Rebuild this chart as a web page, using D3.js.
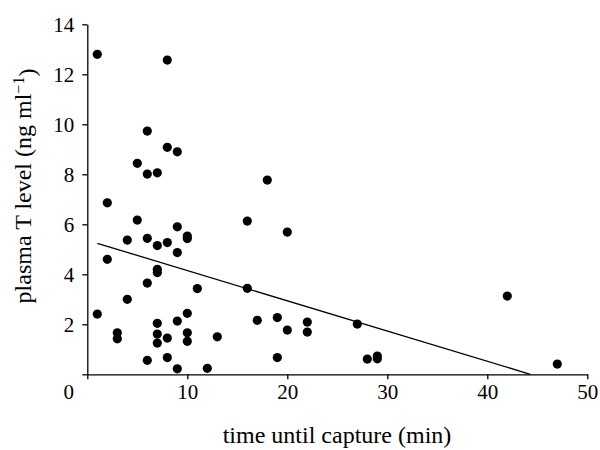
<!DOCTYPE html>
<html>
<head>
<meta charset="utf-8">
<script src="https://cdn.jsdelivr.net/npm/d3@7"></script>
<style>
  html, body { margin: 0; padding: 0; background: #fff; }
  text { font-family: "Liberation Serif", "Times New Roman", serif; fill: #000; }
</style>
</head>
<body>
<svg id="chart" width="600" height="450"></svg>
<script>
// time until capture (min)
const timeMin = [1, 8, 6, 8, 9, 5, 6, 7, 2, 5, 9, 10, 10, 4, 6, 7, 8, 9, 2, 7, 7, 6, 11, 4, 1, 10, 9, 7, 3, 3,
                 7, 7, 8, 10, 10, 13, 6, 8, 9, 12, 16, 16, 17, 18, 20, 19, 20, 22, 22, 27, 19, 28, 29, 29, 42, 47];
// plasma T level (ng/ml)
const plasmaT = [12.8, 12.57, 9.73, 9.08, 8.9, 8.44, 8.01, 8.06, 6.86, 6.17, 5.9, 5.53, 5.43, 5.37, 5.44, 5.15, 5.27, 4.87, 4.6, 4.2,
                 4.07, 3.65, 3.43, 3.0, 2.41, 2.44, 2.13, 2.04, 1.66, 1.42, 1.61, 1.25, 1.45, 1.66, 1.32, 1.5, 0.56, 0.67, 0.22, 0.24,
                 6.13, 3.44, 2.16, 7.77, 5.69, 2.27, 1.77, 2.09, 1.69, 2.01, 0.67, 0.61, 0.73, 0.62, 3.13, 0.41];
// regression line end points
const fitX = [1, 44.3];
const fitY = [5.24, 0];
// ticks
const xTicks = [0, 10, 20, 30, 40, 50];
const yTicks = [0, 2, 4, 6, 8, 10, 12, 14];

const svg = d3.select("#chart");
const x = d3.scaleLinear().domain([0, 50]).range([87.3, 587.3]);
const y = d3.scaleLinear().domain([0, 14]).range([374.3, 24.3]);

// x axis
const gx = svg.append("g").attr("transform", `translate(0,${y(0)})`)
  .call(d3.axisBottom(x).tickValues(xTicks).tickSize(5).tickSizeOuter(0).tickPadding(5).tickFormat(d3.format("d")));
gx.selectAll("text").style("font-size", "21px").attr("dy", "0.71em");
gx.selectAll(".tick").filter(d => d === 0).select("text").attr("x", -19);

// y axis
const gy = svg.append("g").attr("transform", `translate(${x(0)},0)`)
  .call(d3.axisLeft(y).tickValues(yTicks).tickSize(5).tickSizeOuter(0).tickPadding(8).tickFormat(d => d === 0 ? "" : d));
gy.selectAll("text").style("font-size", "21px");

svg.selectAll(".domain, .tick line").attr("stroke", "#000").attr("stroke-width", 1.3);

// regression line
svg.append("path")
  .datum(fitX.map((d, i) => [d, fitY[i]]))
  .attr("fill", "none").attr("stroke", "#000").attr("stroke-width", 1.3)
  .attr("d", d3.line().x(d => x(d[0])).y(d => y(d[1])));

// points
svg.append("g").selectAll("circle")
  .data(timeMin.map((d, i) => [d, plasmaT[i]]))
  .join("circle")
  .attr("cx", d => x(d[0])).attr("cy", d => y(d[1])).attr("r", 4.6).attr("fill", "#000");

// axis titles
svg.append("text").attr("x", 337).attr("y", 443).attr("text-anchor", "middle")
  .style("font-size", "24px").text("time until capture (min)");

const yt = svg.append("text").attr("transform", "translate(31,186) rotate(-90)").attr("text-anchor", "middle")
  .style("font-size", "24px");
yt.append("tspan").text("plasma T level (ng ml");
yt.append("tspan").attr("dy", "-0.45em").style("font-size", "16px").text("−1");
yt.append("tspan").attr("dy", "0.45em").text(")");
</script>
</body>
</html>
